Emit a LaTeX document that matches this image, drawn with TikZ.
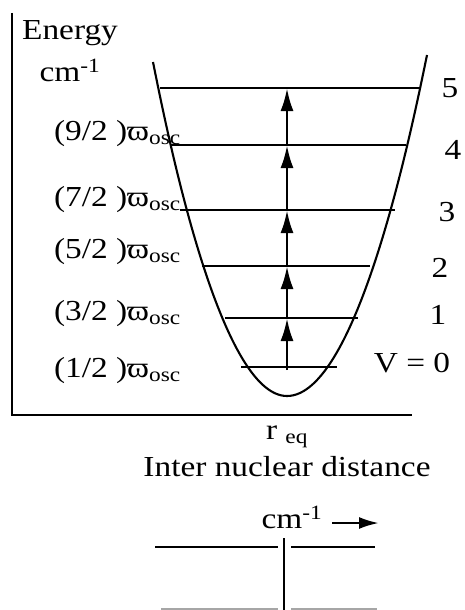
\documentclass[tikz,border=0pt]{standalone}
\usepackage{fontspec}
\setmainfont{Liberation Serif}[FakeStretch=1.15]
\usetikzlibrary{arrows.meta}
\tikzset{
  lbl/.style={font=\fontsize{29}{32}\selectfont, inner sep=0pt},
  level/.style={line width=2.2pt},
  jump/.style={line width=2.8pt, -{Latex[length=23pt, width=13pt]}}
}
\begin{document}
\begin{tikzpicture}[x=1pt, y=-1pt, line width=2.1pt, every node/.style={lbl}]
  \useasboundingbox (0,0) rectangle (464,610);
  % axes
  \coordinate (ax-top) at (12,13);
  \coordinate (ax-o) at (12,415);
  \coordinate (ax-end) at (412,415);
  \draw[line width=2.6pt] (ax-top) -- (ax-o) -- (ax-end);
  \node (energy) at (70,33) {Energy};
  \node (unit) at (70,70) {cm\textsuperscript{-1}};
  % potential well
  \coordinate (well-l) at (153,62);
  \coordinate (well-b) at (287,396);
  \coordinate (well-r) at (427,55);
  \draw (well-l) parabola bend (well-b) (well-r);
  % levels
  \foreach \v/\yy/\xl/\xr in {0/367/241/337, 1/318/225/358, 2/266/202/370,
      3/210/180/395, 4/145/171/406, 5/88/160/421}
    {
    \coordinate (l-\v-w) at (\xl,\yy);
    \coordinate (l-\v-e) at (\xr,\yy);
    \coordinate (l-\v) at (287,\yy);
    \draw[level] (l-\v-w) -- (l-\v-e);
    }
  \coordinate (l-start) at (287,370);
  \draw[jump] (l-start) -- (l-1);
  \foreach \v/\n in {1/2, 2/3, 3/4, 4/5}
    \draw[jump] (l-\v) -- (l-\n);
  % quantum numbers
  \foreach \v/\xx/\yy in {5/450/88, 4/453/150, 3/447/212, 2/440/268, 1/438/315}
    \node (n-\v) at (\xx,\yy) {\v};
  \node (n-0) at (412,363) {V = 0};
  % energies
  \foreach \k/\yy in {1/371, 3/314, 5/252, 7/200, 9/134}
    \node[anchor=west] (e-\k) at (53,\yy) {(\k/2 )ϖ\textsubscript{osc}};
  \node (req) at (287,437) {r \textsubscript{eq}};
  \node (dist) at (287,467) {Inter nuclear distance};
  % spectrum
  \node (spec) at (292,517) {cm\textsuperscript{-1}};
  \coordinate (sp-a) at (332,523);
  \coordinate (sp-b) at (379,523);
  \draw[line width=2.6pt, -{Latex[length=20pt, width=12pt]}] (sp-a) -- (sp-b);
  \coordinate (sp-t) at (284,538);
  \coordinate (sp-d) at (284,610);
  \draw[line width=2.6pt] (sp-t) -- (sp-d);
  \draw[line width=2.6pt] (155,547) -- (278,547);
  \draw[line width=2.6pt] (291,547) -- (375,547);
  \draw[gray!70] (161,609) -- (278,609);
  \draw[gray!70] (291,609) -- (377,609);
\end{tikzpicture}
\end{document}
